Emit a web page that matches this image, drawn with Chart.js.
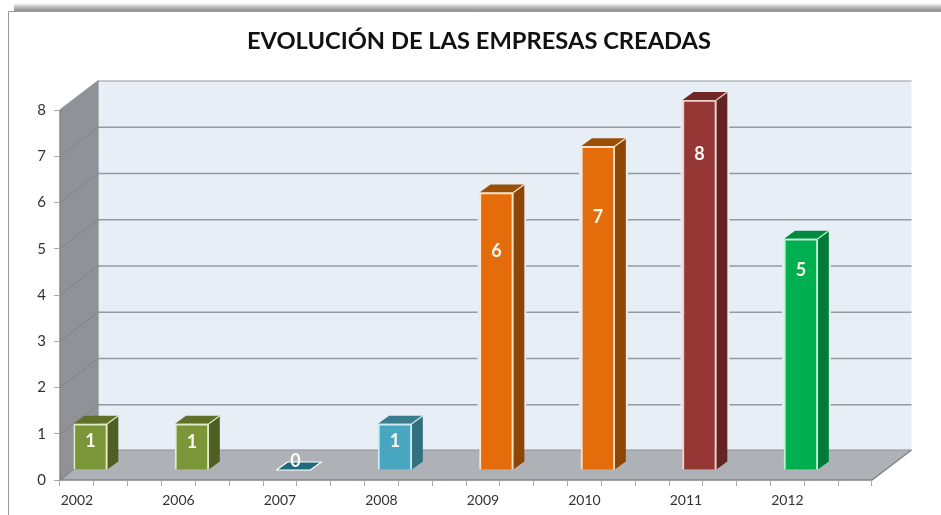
<!DOCTYPE html>
<html><head><meta charset="utf-8">
<style>html,body{margin:0;padding:0;background:#fff}canvas{display:block}</style>
<script src="https://cdn.jsdelivr.net/npm/chart.js@4/dist/chart.umd.min.js"></script>
</head><body>
<div style="width:941px;height:515px;position:relative"><canvas id="c" width="941" height="515"></canvas></div>
<script>
const years = ['2002','2006','2007','2008','2009','2010','2011','2012'];
const counts = [1,1,0,1,6,7,8,5];
const yTicks = [0,1,2,3,4,5,6,7,8];
const titleText = 'EVOLUCIÓN DE LAS EMPRESAS CREADAS';
const frontColors = ['#7a9638','#7a9638','#1f6a7c','#48a6c0','#e46c0a','#e46c0a','#953735','#00b050'];
const topColors = ['#5f7029','#5f7029','#1f6a7c','#3a7c8e','#9a5006','#9a5006','#6f2826','#008c40'];
const sideColors = ['#4f5f24','#4f5f24','#1f6a7c','#31707f','#8e4604','#8e4604','#632423','#007a38'];
const edgeColors = ['#e3ebc8','#e3ebc8','#ffffff','#cfeaf2','#fbe3cc','#fbe3cc','#f0d2ce','#bdf2d4'];
const labelDrops = [17,18,-9,17,59,71,54,31];

/* each year occupies three axis bands, as on the original axis */
const BANDS = 3;
const labels = [], series = [], bgs = [], edges = [];
years.forEach((y,i)=>{ for(let b=0;b<BANDS;b++){
  labels.push(b===0?y:''); series.push(b===0?counts[i]:null);
  bgs.push(frontColors[i]); edges.push(edgeColors[i]); }});

const WALL = {l:38, r:39.5, u:29, floor:30};
const BAR = {dx:13.5, dy:-10, sx:11, sy:-8};
const ink = '#333333';
const wallFill = '#e8eef5';

const scene = {
  id:'scene',
  afterLayout(ch){ const t=ch.titleBlock; t.left=17; t.right=941; },
  beforeDraw(ch){
    const c=ch.ctx, x=ch.scales.x, y=ch.scales.y;
    const g=c.createLinearGradient(0,3,0,11);
    g.addColorStop(0,'#ffffff'); g.addColorStop(.45,'#c4c4c4'); g.addColorStop(1,'#8e8e8e');
    c.fillStyle=g; c.fillRect(14,3,927,8);
    c.strokeStyle='#9a9a9a'; c.lineWidth=1;
    c.beginPath(); c.moveTo(8.5,515); c.lineTo(8.5,11.5); c.lineTo(941,11.5); c.stroke();
    const L=x.left,R=x.right,T=y.getPixelForValue(8),B=y.getPixelForValue(0);
    const WT=T-WALL.u, WB=B-WALL.floor, WL=L+WALL.l, WR=R+WALL.r;
    c.fillStyle=wallFill; c.fillRect(WL,WT,WR-WL,WB-WT);
    c.fillStyle='#909297'; c.beginPath();
    c.moveTo(L,T); c.lineTo(WL,WT); c.lineTo(WL,WB); c.lineTo(L,B); c.closePath(); c.fill();
    c.fillStyle='#aeb2b6'; c.beginPath();
    c.moveTo(L,B); c.lineTo(WL,WB); c.lineTo(WR,WB); c.lineTo(R,B); c.closePath(); c.fill();
    yTicks.forEach(v=>{
      if(v===0) return;
      const p=y.getPixelForValue(v)-WALL.u;
      c.strokeStyle='#959aa0'; c.lineWidth=v===8?1.2:1.6;
      c.beginPath(); c.moveTo(WL,p); c.lineTo(WR,p); c.stroke();
      if(v<8){ c.strokeStyle='#808388'; c.lineWidth=1;
        c.beginPath(); c.moveTo(L,y.getPixelForValue(v)); c.lineTo(WL,p); c.stroke(); }
    });
    c.strokeStyle='#8d9297'; c.lineWidth=1.2;
    c.beginPath(); c.moveTo(L,T); c.lineTo(WL,WT); c.lineTo(WL,WB); c.lineTo(WR,WB); c.stroke();
    c.strokeStyle='#7f8388'; c.lineWidth=1.4;
    c.beginPath(); c.moveTo(L,T); c.lineTo(L,B); c.lineTo(R,B); c.lineTo(WR,WB); c.stroke();
    c.beginPath(); c.moveTo(L,B); c.lineTo(WL,WB); c.stroke();
  },
  beforeDatasetsDraw(ch){
    const c=ch.ctx, els=ch.getDatasetMeta(0).data, x=ch.scales.x, y=ch.scales.y;
    const WB=y.getPixelForValue(0)-WALL.floor-1, WL=x.left+WALL.l;
    c.save(); c.translate(BAR.dx,BAR.dy);
    years.forEach((yr,i)=>{
      const e=els[i*BANDS], l=e.x-e.width/2, r=e.x+e.width/2, t=e.y, b=e.base;
      // pale halo where a tall bar crosses the wall grid (wall area only)
      if(b-t>=1){
        c.save(); c.beginPath(); c.rect(WL+1-BAR.dx,0,941,WB-BAR.dy); c.clip();
        c.fillStyle=wallFill; c.fillRect(l-2,t+BAR.sy,r-l+BAR.sx+4,b-t);
        c.restore();
      }
      c.lineWidth=1.2; c.lineJoin='round'; c.strokeStyle=edgeColors[i];
      c.fillStyle=topColors[i]; c.beginPath();
      c.moveTo(l,t); c.lineTo(l+BAR.sx,t+BAR.sy); c.lineTo(r+BAR.sx,t+BAR.sy); c.lineTo(r,t); c.closePath(); c.fill();
      if(b-t<1){ c.stroke(); }
      if(b-t>=1){
        c.fillStyle=sideColors[i]; c.beginPath();
        c.moveTo(r,t); c.lineTo(r+BAR.sx,t+BAR.sy); c.lineTo(r+BAR.sx,b+BAR.sy); c.lineTo(r,b); c.closePath(); c.fill();
        c.beginPath(); c.moveTo(r,t); c.lineTo(r+BAR.sx,t+BAR.sy); c.stroke();
      }
    });
  },
  afterDatasetsDraw(ch){
    const c=ch.ctx, els=ch.getDatasetMeta(0).data;
    c.fillStyle='#fdfbee'; c.font='bold 18px Lato'; c.textAlign='center'; c.textBaseline='middle';
    years.forEach((yr,i)=>{
      const e=els[i*BANDS];
      c.fillText(String(counts[i]), e.x+(counts[i]===0?2:0), e.y+labelDrops[i]);
    });
    c.restore();
  }
};

new Chart(document.getElementById('c'),{
  type:'bar',
  data:{labels,datasets:[{data:series,backgroundColor:bgs,borderColor:edges,borderWidth:2,
    barPercentage:1,categoryPercentage:1}]},
  plugins:[scene],
  options:{
    responsive:false,animation:false,
    layout:{padding:{left:17,right:69,top:0,bottom:0}},
    plugins:{legend:{display:false},tooltip:{enabled:false},
      title:{display:true,text:titleText,color:'#111',font:{family:'Lato',size:23.7,weight:'bold',lineHeight:1.2},padding:{top:27,bottom:54.56}}},
    scales:{
      x:{offset:true,
        grid:{drawOnChartArea:false,drawTicks:true,tickLength:6,color:'#a8a8a8',offset:true},
        border:{display:false},
        ticks:{autoSkip:false,maxRotation:0,minRotation:0,color:ink,padding:6,font:{family:'Lato',size:14}},
        afterFit(s){ s.height=35; }},
      y:{min:0,max:8,
        grid:{drawOnChartArea:false,drawTicks:true,tickLength:6,color:'#a8a8a8'},
        border:{display:false},
        afterBuildTicks(s){ s.ticks=yTicks.map(v=>({value:v})); },
        ticks:{color:ink,padding:8,font:{family:'Lato',size:15}},
        afterFit(s){ s.width=43; }}
    }
  }
});
</script></body></html>
